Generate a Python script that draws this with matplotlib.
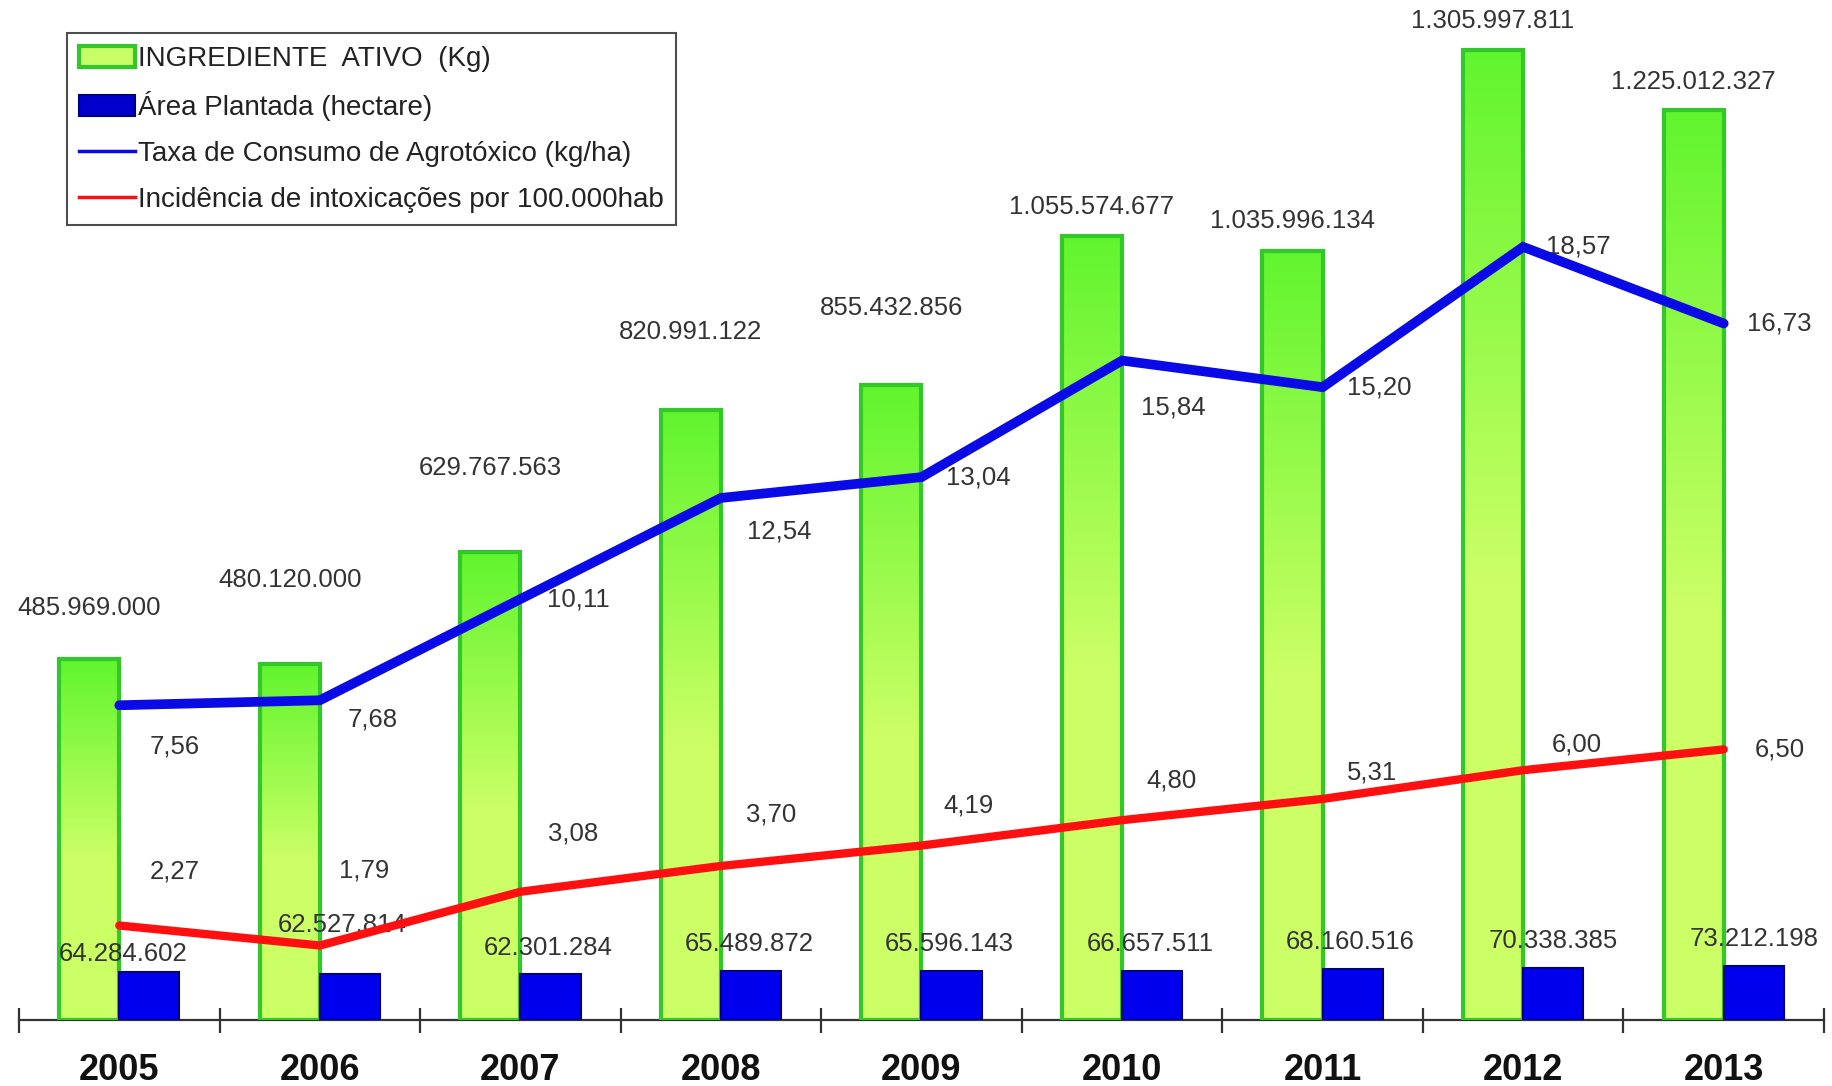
import numpy as np
import matplotlib
matplotlib.use("Agg")
import matplotlib.pyplot as plt
from matplotlib import font_manager
from matplotlib.patches import Patch
from matplotlib.lines import Line2D

anos = ["2005", "2006", "2007", "2008", "2009", "2010", "2011", "2012", "2013"]
ingrediente_kg = [485969000, 480120000, 629767563, 820991122, 855432856,
                  1055574677, 1035996134, 1305997811, 1225012327]
area_ha = [64284602, 62527814, 62301284, 65489872, 65596143,
           66657511, 68160516, 70338385, 73212198]
taxa_consumo = [7.56, 7.68, 10.11, 12.54, 13.04, 15.84, 15.20, 18.57, 16.73]
incidencia = [2.27, 1.79, 3.08, 3.70, 4.19, 4.80, 5.31, 6.00, 6.50]

# label offsets (pixels) picked by eye so they sit like the original
off_ing = [51, 84, 84, 78, 77, 29, 30, 29, 28]
off_area = [(4, 18), (22, 49), (28, 26), (28, 27), (28, 27), (28, 27), (28, 27), (30, 27), (30, 27)]
off_taxa = [(55, -41), (53, -19), (58, 0), (58, -34), (57, 0), (51, -47), (57, 0), (55, 0), (56, 0)]
off_inc = [(55, 54), (44, 75), (53, 58), (50, 51), (47, 40), (49, 40), (49, 26), (54, 26), (56, 0)]

names = {f.name for f in font_manager.fontManager.ttflist}
base_font = "Liberation Sans"
narrow = "Liberation Sans Narrow" if "Liberation Sans Narrow" in names else base_font
plt.rcParams['font.family'] = [base_font, 'DejaVu Sans']


def milhar(v):
    return f"{v:,}".replace(",", ".")


def decimal(v):
    return f"{v:.2f}".replace(".", ",")


W, H = 1833, 1086
fig = plt.figure(figsize=(W / 100, H / 100), dpi=100)
ax = fig.add_axes([19 / W, (H - 1020) / H, (1824 - 19) / W, 1020 / H])
ax2 = ax.twinx()

x = np.arange(len(anos))
bw = 0.3
txt_col = "#333333"

# green bars with vertical gradient
top_c = np.array([0.38, 0.96, 0.18])
bot_c = np.array([0.80, 1.00, 0.40])
t = np.linspace(0, 1, 256)
s = np.clip(t / 0.55, 0, 1)[:, None]
grad = (top_c * (1 - s) + bot_c * s)[:, None, :]

bars = ax.bar(x - bw / 2, ingrediente_kg, bw, facecolor="none",
              edgecolor="#33c82a", linewidth=3, zorder=3)
for b in bars:
    x0, y0, w, h = b.get_x(), b.get_y(), b.get_width(), b.get_height()
    im = ax.imshow(grad, extent=(x0, x0 + w, y0, y0 + h), origin="upper",
                   aspect="auto", zorder=2)
    im.set_clip_path(b)

ax.bar(x + bw / 2, area_ha, bw, color="#0000ee", edgecolor="#000080",
       linewidth=1.5, zorder=3)

ax.set_xlim(-0.5, len(anos) - 0.5)
ax.set_ylim(0, 1.3737e9)
ax2.set_ylim(0, 24.5)

for i, v in enumerate(ingrediente_kg):
    ax.annotate(milhar(v), (x[i] - bw / 2, v), xytext=(0, off_ing[i]),
                textcoords="offset pixels", ha="center", va="center",
                fontsize=18.5, color=txt_col, zorder=5)
for i, v in enumerate(area_ha):
    ax.annotate(milhar(v), (x[i], v), xytext=off_area[i],
                textcoords="offset pixels", ha="center", va="center",
                fontsize=18.5, color=txt_col, zorder=5)

ax2.plot(x, taxa_consumo, color="#0a0ae6", linewidth=7, solid_capstyle="round",
         solid_joinstyle="miter", zorder=4)
ax2.plot(x, incidencia, color="#ff1010", linewidth=6, solid_capstyle="round",
         solid_joinstyle="miter", zorder=4)

for i, v in enumerate(taxa_consumo):
    ax2.annotate(decimal(v), (x[i], v), xytext=off_taxa[i],
                 textcoords="offset pixels", ha="center", va="center",
                 fontsize=18.5, color=txt_col)
for i, v in enumerate(incidencia):
    ax2.annotate(decimal(v), (x[i], v), xytext=off_inc[i],
                 textcoords="offset pixels", ha="center", va="center",
                 fontsize=18.5, color=txt_col)

# axes styling: only the bottom line with ticks between the years
for a in (ax, ax2):
    for sp in a.spines.values():
        sp.set_visible(False)
    a.set_yticks([])
ax.spines["bottom"].set_visible(True)
ax.spines["bottom"].set_color("#333333")
ax.spines["bottom"].set_linewidth(1.6)
ax.set_xticks(np.arange(-0.5, len(anos), 1.0))
ax.set_xticklabels([""] * (len(anos) + 1))
ax.tick_params(axis="x", which="major", direction="inout", length=18,
               width=1.6, color="#333333")
ax.set_xticks(x, minor=True)
ax.set_xticklabels(anos, minor=True, fontsize=26, fontweight="bold",
                   family=[narrow, "DejaVu Sans"], color="#111111")
ax.tick_params(axis="x", which="minor", length=0, pad=24)

handles = [
    Patch(facecolor="#c8ff66", edgecolor="#33c82a", linewidth=3),
    Patch(facecolor="#0000cc", edgecolor="#000080", linewidth=1.5),
    Line2D([], [], color="#0a0ae6", linewidth=2.5),
    Line2D([], [], color="#ff1010", linewidth=2.5),
]
labels = ["INGREDIENTE  ATIVO  (Kg)", "Área Plantada (hectare)",
          "Taxa de Consumo de Agrotóxico (kg/ha)",
          "Incidência de intoxicações por 100.000hab"]
leg = ax2.legend(handles, labels, loc="upper left",
                 bbox_to_anchor=(67 / W, 1 - 33 / H), bbox_transform=fig.transFigure,
                 borderaxespad=0, fontsize=20, frameon=True, fancybox=False,
                 handlelength=2.0, handleheight=0.8, handletextpad=0.1,
                 labelspacing=0.7, borderpad=0.45)
leg.get_frame().set_edgecolor("#222222")
leg.get_frame().set_linewidth(1.5)
for tx in leg.get_texts():
    tx.set_color("#222222")

fig.savefig("out.png", dpi=100)
